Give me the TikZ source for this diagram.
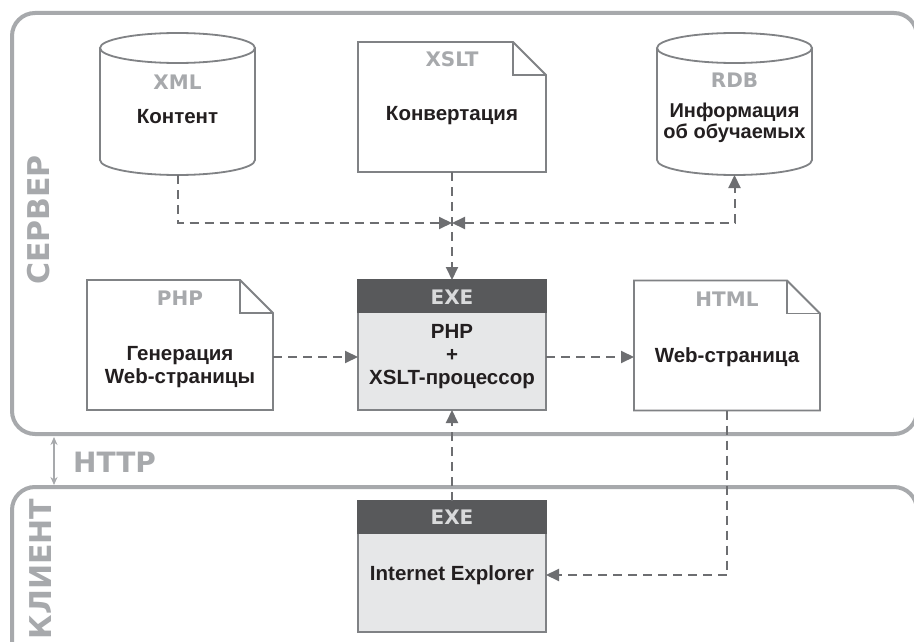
\documentclass[tikz,border=0pt]{standalone}
\usepackage{fontspec}
\setmainfont{Liberation Sans}
\newfontfamily\labfont{DejaVu Sans}
\usetikzlibrary{arrows.meta}
\definecolor{framec}{HTML}{A7A9AC}
\definecolor{labc}{HTML}{A7A9AC}
\definecolor{boxc}{HTML}{808285}
\definecolor{arrc}{HTML}{6D6E71}
\definecolor{headc}{HTML}{58595B}
\definecolor{bodyc}{HTML}{E6E7E8}
\definecolor{txtc}{HTML}{231F20}
\definecolor{exelab}{HTML}{D9DADB}
\newcommand\docshape[1]{%
  \draw[boxline, fill=white] (#1.north west) -- ([xshift=-33pt]#1.north east) -- ([yshift=-33pt]#1.north east) -- (#1.south east) -- (#1.south west) -- cycle;
  \draw[boxline] ([xshift=-33pt]#1.north east) |- ([yshift=-33pt]#1.north east);}
\newcommand\dbshape[3]{% center x, top ellipse y, bottom ellipse y
  \filldraw[boxline, fill=white] (#1-77.5,#2) -- (#1-77.5,#3) arc[start angle=180,end angle=360,x radius=77.5,y radius=15] -- (#1+77.5,#2);
  \filldraw[boxline, fill=white] (#1,#2) ellipse[x radius=77.5, y radius=15];}
\newcommand\exeshape[1]{%
  \filldraw[boxline, fill=bodyc] (#1.north west) rectangle (#1.south east);
  \fill[headc] ([xshift=-0.9pt,yshift=0.9pt]#1.north west) rectangle ([xshift=0.9pt,yshift=-33pt]#1.north east);}
\begin{document}
\begin{tikzpicture}[x=1pt,y=1pt,
  boxline/.style={draw=boxc, line width=1.8pt},
  holder/.style={inner sep=0pt, outer sep=0pt},
  maintext/.style={font=\fontsize{20.5}{23}\selectfont\bfseries, text=txtc, align=center, inner sep=0pt},
  lab/.style={font=\labfont\fontsize{20}{24}\selectfont\bfseries, text=labc, inner sep=0pt},
  exetitle/.style={font=\labfont\fontsize{20}{24}\selectfont\bfseries, text=exelab, inner sep=0pt},
  sidelab/.style={font=\labfont\fontsize{30}{34}\selectfont\bfseries, text=labc, inner sep=0pt, rotate=90},
  frameline/.style={draw=framec, line width=4pt, rounded corners=23pt},
  flow/.style={draw=arrc, line width=2pt, dash pattern=on 9pt off 6pt, >={Triangle[length=13pt,width=12pt]}, ->},
  httparr/.style={draw=framec, line width=1.6pt, {Stealth[length=8pt,width=7pt]}-{Stealth[length=8pt,width=7pt]}}
]
\useasboundingbox (0,0) rectangle (914,-642);
\clip (0,0) rectangle (914,-642);
\fill[white] (0,0) rectangle (914,-642);
% frames
\draw[frameline] (12,-13) rectangle (917,-434);
\draw[frameline] (12,-487) rectangle (917,-670);
\node[sidelab] (server) at (39,-220) {СЕРВЕР};
\node[sidelab] (client) at (41,-569) {КЛИЕНТ};
\coordinate (ht) at (54,-437);
\coordinate (hb) at (54,-485);
\draw[httparr] (ht) -- (hb);
\node[lab, font=\labfont\fontsize{28}{32}\selectfont\bfseries, anchor=west] (http) at (73,-462) {HTTP};
% node holders
\node[holder, minimum width=155pt, minimum height=142pt] (xml) at (177.5,-104) {};
\node[holder, minimum width=188pt, minimum height=130pt] (xslt) at (452,-107) {};
\node[holder, minimum width=155pt, minimum height=142pt] (rdb) at (734.5,-104) {};
\node[holder, minimum width=186pt, minimum height=130pt] (php) at (180,-345) {};
\node[holder, minimum width=188pt, minimum height=130pt] (exe) at (452,-345) {};
\node[holder, minimum width=186pt, minimum height=130pt] (html) at (727,-345.5) {};
\node[holder, minimum width=188pt, minimum height=131pt] (ie) at (452,-566.5) {};
\coordinate (J) at (452,-223);
% shapes
\dbshape{177.5}{-48}{-160}
\dbshape{734.5}{-48}{-160}
\docshape{xslt}
\docshape{php}
\docshape{html}
\exeshape{exe}
\exeshape{ie}
% texts
\node[lab] (xmll) at (177.5,-82) {XML};
\node[maintext] (xmlt) at (177.5,-117) {Контент};
\node[lab] (xsltl) at (452,-59) {XSLT};
\node[maintext] (xsltt) at (452,-116) {Конвертация};
\node[lab] (rdbl) at (734.5,-80) {RDB};
\node[maintext, font=\fontsize{20}{20.5}\selectfont\bfseries] (rdbt) at (734.5,-123) {Информация\\об обучаемых};
\node[lab] (phpl) at (180,-298) {PHP};
\node[maintext] (phpt) at (180,-367) {Генерация\\Web-страницы};
\node[exetitle] (exel) at (452,-297) {EXE};
\node[maintext] (exet) at (452,-357) {PHP\\+\\XSLT-процессор};
\node[lab] (htmll) at (727,-299) {HTML};
\node[maintext] (htmlt) at (727,-357) {Web-страница};
\node[exetitle] (iel) at (452,-517) {EXE};
\node[maintext] (iet) at (452,-575) {Internet Explorer};
% connectors
\draw[flow] (xml.south) |- (J);
\draw[flow, <->] (J) -| (rdb.south);
\draw[flow] (xslt.south) -- (exe.north);
\draw[flow] (php.east |- exet) -- (exe.west |- exet);
\draw[flow] (exe.east |- exet) -- (html.west |- exet);
\draw[flow] (html.south) |- (ie.east |- iet);
\draw[flow] (ie.north) -- (exe.south);
\end{tikzpicture}
\end{document}
